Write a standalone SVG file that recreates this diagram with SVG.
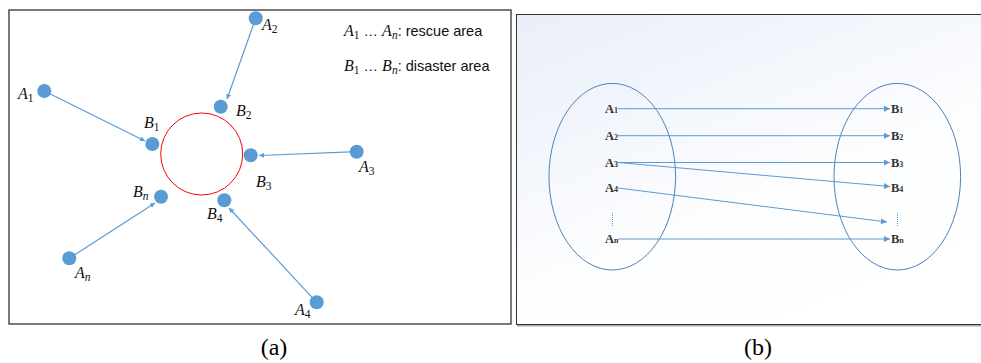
<svg xmlns="http://www.w3.org/2000/svg" width="981" height="363" viewBox="0 0 981 363">
<defs>
<linearGradient id="bg" x1="0" y1="0" x2="0.6" y2="1">
<stop offset="0" stop-color="#e9eef8"/>
<stop offset="0.7" stop-color="#fdfeff"/>
<stop offset="1" stop-color="#ffffff"/>
</linearGradient>
<marker id="ah" viewBox="0 0 10 10" refX="10" refY="5" markerWidth="5" markerHeight="5" orient="auto" markerUnits="userSpaceOnUse">
<path d="M0,0 L10,5 L0,10 z" fill="#5b9bd5"/>
</marker>
<marker id="bh" viewBox="0 0 10 10" refX="10" refY="5" markerWidth="8" markerHeight="6" orient="auto" markerUnits="userSpaceOnUse">
<path d="M0,0 L10,5 L0,10 z" fill="#5b9bd5"/>
</marker>
</defs>
<style>
.frame{fill:none;stroke:#333;stroke-width:1.3}
.dot{fill:#5b9bd5}
.lbl{font-family:"Liberation Serif",serif;font-style:italic;font-size:16px;fill:#111}
.sub{font-style:normal;font-size:11.5px}
.subi{font-style:italic;font-size:11.5px}
.leg{font-family:"Liberation Sans",sans-serif;font-size:14.5px;fill:#111}
.la{stroke:#5b9bd5;stroke-width:1.2;fill:none}
.lb{stroke:#5b9bd5;stroke-width:1;fill:none}
.ell{fill:none;stroke:#4f81bd;stroke-width:1}
.bl{font-family:"Liberation Serif",serif;font-weight:bold;font-size:12.5px;fill:#333}
.bs{font-size:8px}
.cap{font-family:"Liberation Serif",serif;font-size:24px;fill:#000}
</style>
<rect x="0" y="0" width="981" height="363" fill="#fff"/>

<!-- Panel (a) -->
<g id="panel-a">
<rect class="frame" x="9" y="10" width="502" height="314"/>
</g>
<g id="red-circle"><circle cx="201.7" cy="154" r="41" fill="none" stroke="#ff0000" stroke-width="1"/></g>

<g id="connectors-a">
<line class="la" x1="255.7" y1="18.3" x2="227" y2="99" marker-end="url(#ah)"/>
<line class="la" x1="44.3" y1="91" x2="145" y2="141" marker-end="url(#ah)"/>
<line class="la" x1="356.7" y1="151.7" x2="259" y2="155.5" marker-end="url(#ah)"/>
<line class="la" x1="69.3" y1="258.3" x2="155" y2="203" marker-end="url(#ah)"/>
<line class="la" x1="316.7" y1="302.3" x2="229" y2="208" marker-end="url(#ah)"/>
</g>

<g id="A2"><circle class="dot" cx="255.7" cy="18.3" r="7"/><text class="lbl" x="262" y="30">A<tspan class="sub" dy="3">2</tspan></text></g>
<g id="A1"><circle class="dot" cx="44.3" cy="91" r="7"/><text class="lbl" x="18" y="99">A<tspan class="sub" dy="3">1</tspan></text></g>
<g id="B2"><circle class="dot" cx="220.7" cy="106.7" r="7"/><text class="lbl" x="236" y="116">B<tspan class="sub" dy="3">2</tspan></text></g>
<g id="B1"><circle class="dot" cx="152.3" cy="144" r="7"/><text class="lbl" x="144" y="128">B<tspan class="sub" dy="3">1</tspan></text></g>
<g id="B3"><circle class="dot" cx="250.7" cy="155.3" r="7"/><text class="lbl" x="256" y="187">B<tspan class="sub" dy="3">3</tspan></text></g>
<g id="A3"><circle class="dot" cx="356.7" cy="151.7" r="7"/><text class="lbl" x="359" y="172">A<tspan class="sub" dy="3">3</tspan></text></g>
<g id="Bn"><circle class="dot" cx="161" cy="196.7" r="7"/><text class="lbl" x="133" y="197">B<tspan class="subi" dy="3">n</tspan></text></g>
<g id="B4"><circle class="dot" cx="224.3" cy="200.3" r="7"/><text class="lbl" x="207" y="219">B<tspan class="sub" dy="3">4</tspan></text></g>
<g id="An"><circle class="dot" cx="69.3" cy="258.3" r="7"/><text class="lbl" x="75" y="278">A<tspan class="subi" dy="3">n</tspan></text></g>
<g id="A4"><circle class="dot" cx="316.7" cy="302.3" r="7"/><text class="lbl" x="295" y="315">A<tspan class="sub" dy="3">4</tspan></text></g>

<g id="legend">
<text class="leg" x="344" y="36"><tspan class="lbl">A</tspan><tspan class="lbl sub" dy="3">1</tspan><tspan dy="-3"> … </tspan><tspan class="lbl">A</tspan><tspan class="lbl subi" dy="3">n</tspan><tspan dy="-3">: rescue area</tspan></text>
<text class="leg" x="344" y="71"><tspan class="lbl">B</tspan><tspan class="lbl sub" dy="3">1</tspan><tspan dy="-3"> … </tspan><tspan class="lbl">B</tspan><tspan class="lbl subi" dy="3">n</tspan><tspan dy="-3">: disaster area</tspan></text>
</g>

<!-- Panel (b) -->
<g id="panel-b">
<line x1="517" y1="325.5" x2="981" y2="325.5" stroke="#aaa" stroke-width="2"/>
<rect x="516.5" y="14.5" width="470" height="310" fill="url(#bg)" stroke="#333" stroke-width="1"/>
</g>
<g id="set-A"><ellipse class="ell" cx="612.3" cy="176.7" rx="63.3" ry="93.3"/></g>
<g id="set-B"><ellipse class="ell" cx="897.3" cy="176.7" rx="63.3" ry="93.3"/></g>

<g id="connectors-b">
<line class="lb" x1="618" y1="108.7" x2="890" y2="108.7" marker-end="url(#bh)"/>
<line class="lb" x1="618" y1="135.7" x2="890" y2="135.7" marker-end="url(#bh)"/>
<line class="lb" x1="618" y1="162.5" x2="890" y2="162.5" marker-end="url(#bh)"/>
<line class="lb" x1="618" y1="162.5" x2="890" y2="186.5" marker-end="url(#bh)"/>
<line class="lb" x1="618" y1="188" x2="887" y2="222" marker-end="url(#bh)"/>
<line class="lb" x1="618" y1="239" x2="890" y2="239" marker-end="url(#bh)"/>
</g>

<g id="a-labels">
<text class="bl" x="605" y="113">A<tspan class="bs">1</tspan></text>
<text class="bl" x="605" y="140">A<tspan class="bs">2</tspan></text>
<text class="bl" x="605" y="167">A<tspan class="bs">3</tspan></text>
<text class="bl" x="605" y="192">A<tspan class="bs">4</tspan></text>
<line x1="612.5" y1="213" x2="612.5" y2="227" stroke="#5b9bd5" stroke-width="1" stroke-dasharray="1,1"/>
<text class="bl" x="605" y="243">A<tspan class="bs">n</tspan></text>
</g>
<g id="b-labels">
<text class="bl" x="891" y="113">B<tspan class="bs">1</tspan></text>
<text class="bl" x="891" y="140">B<tspan class="bs">2</tspan></text>
<text class="bl" x="891" y="167">B<tspan class="bs">3</tspan></text>
<text class="bl" x="891" y="192">B<tspan class="bs">4</tspan></text>
<line x1="897.5" y1="213" x2="897.5" y2="227" stroke="#5b9bd5" stroke-width="1" stroke-dasharray="1,1"/>
<text class="bl" x="891" y="243">B<tspan class="bs">n</tspan></text>
</g>

<g id="captions">
<text class="cap" x="274" y="355" text-anchor="middle">(a)</text>
<text class="cap" x="758" y="355" text-anchor="middle">(b)</text>
</g>
</svg>
